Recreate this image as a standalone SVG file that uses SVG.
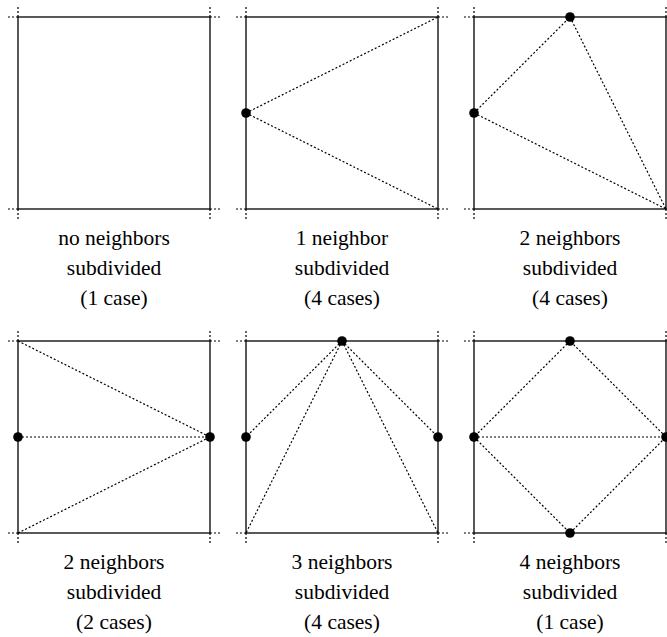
<svg xmlns="http://www.w3.org/2000/svg" width="667" height="637" viewBox="0 0 667 637">
<defs>
<style>
.sq{fill:none;stroke:#000;stroke-width:1.3}
.dt{fill:none;stroke:#000;stroke-width:1.2;stroke-dasharray:2 2}
.tk{fill:none;stroke:#000;stroke-width:1.2;stroke-dasharray:2 2}
.pt{fill:#000}
</style>
<g id="ticks">
<path class="tk" d="M-10 0H0M0 -10V0M192 0H202M192 -10V0M-10 192H0M0 192V202M192 192H202M192 192V202"/>
</g>
</defs>
<g font-family="Liberation Serif, DejaVu Serif, Times New Roman, serif" font-size="21.5" text-anchor="middle" fill="#000">
<g id="panel1">
<use href="#ticks" x="18" y="17"/>
<rect class="sq" x="18" y="17" width="192" height="192"/>
<text x="114" y="245">no neighbors</text>
<text x="114" y="275">subdivided</text>
<text x="114" y="305">(1 case)</text>
</g>
<g id="panel2">
<use href="#ticks" x="246" y="17"/>
<rect class="sq" x="246" y="17" width="192" height="192"/>
<text x="342" y="245">1 neighbor</text>
<text x="342" y="275">subdivided</text>
<text x="342" y="305">(4 cases)</text>
</g>
<g id="panel3">
<use href="#ticks" x="474" y="17"/>
<rect class="sq" x="474" y="17" width="192" height="192"/>
<text x="570" y="245">2 neighbors</text>
<text x="570" y="275">subdivided</text>
<text x="570" y="305">(4 cases)</text>
</g>
<g id="panel4">
<use href="#ticks" x="18" y="341"/>
<rect class="sq" x="18" y="341" width="192" height="192"/>
<text x="114" y="569">2 neighbors</text>
<text x="114" y="599">subdivided</text>
<text x="114" y="629">(2 cases)</text>
</g>
<g id="panel5">
<use href="#ticks" x="246" y="341"/>
<rect class="sq" x="246" y="341" width="192" height="192"/>
<text x="342" y="569">3 neighbors</text>
<text x="342" y="599">subdivided</text>
<text x="342" y="629">(4 cases)</text>
</g>
<g id="panel6">
<use href="#ticks" x="474" y="341"/>
<rect class="sq" x="474" y="341" width="192" height="192"/>
<text x="570" y="569">4 neighbors</text>
<text x="570" y="599">subdivided</text>
<text x="570" y="629">(1 case)</text>
</g>
</g>
<g id="connectors">
<path class="dt" d="M246 113L438 17M246 113L438 209"/>
<path class="dt" d="M474 113L570 17M570 17L666 209M474 113L666 209"/>
<path class="dt" d="M18 341L210 437M18 437H210M18 533L210 437"/>
<path class="dt" d="M342 341L246 437M342 341L246 533M342 341L438 533M342 341L438 437"/>
<path class="dt" d="M570 341L474 437L570 533L666 437ZM474 437H666"/>
</g>
<g id="points">
<circle class="pt" cx="246" cy="113" r="4.8"/>
<circle class="pt" cx="570" cy="17" r="4.8"/>
<circle class="pt" cx="474" cy="113" r="4.8"/>
<circle class="pt" cx="18" cy="437" r="4.8"/>
<circle class="pt" cx="210" cy="437" r="4.8"/>
<circle class="pt" cx="342" cy="341" r="4.8"/>
<circle class="pt" cx="246" cy="437" r="4.8"/>
<circle class="pt" cx="438" cy="437" r="4.8"/>
<circle class="pt" cx="570" cy="341" r="4.8"/>
<circle class="pt" cx="474" cy="437" r="4.8"/>
<circle class="pt" cx="666" cy="437" r="4.8"/>
<circle class="pt" cx="570" cy="533" r="4.8"/>
</g>
</svg>
